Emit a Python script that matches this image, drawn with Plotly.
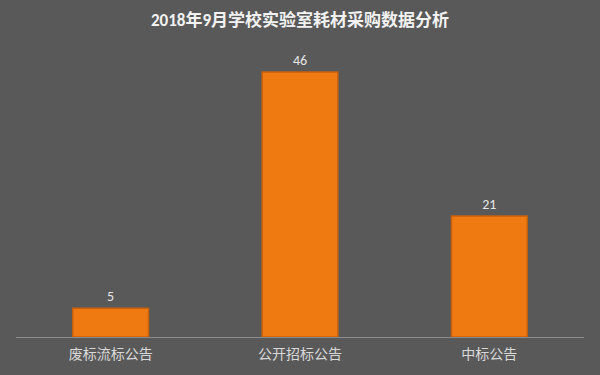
import plotly.graph_objects as go

categories = ["废标流标公告", "公开招标公告", "中标公告"]
values = [5, 46, 21]
title_text = "2018年9月学校实验室耗材采购数据分析"

font_family = "Calibri, 'Noto Sans CJK SC', sans-serif"

fig = go.Figure()
fig.add_trace(go.Bar(
    x=categories, y=values,
    marker=dict(color="#F07A12", line=dict(color="#C9600C", width=1.5)),
    text=[str(v) for v in values], textposition="outside",
    textfont=dict(color="#E6E6E6", size=14, family=font_family),
    cliponaxis=False,
    width=0.4,
))

fig.update_layout(
    width=600, height=375,
    paper_bgcolor="#595959", plot_bgcolor="#595959",
    margin=dict(l=16, r=16, t=49, b=38),
    title=dict(text="<b>" + title_text + "</b>", x=0.5, xanchor="center", y=0.947, yanchor="middle",
               font=dict(color="#F2F2F2", size=17, family=font_family)),
    showlegend=False,
    xaxis=dict(showline=True, linecolor="#8C8C8C", linewidth=1, ticks="",
               ticklabelstandoff=4,
               tickfont=dict(color="#D9D9D9", size=14, family=font_family), showgrid=False),
    yaxis=dict(range=[0, 50], visible=False, showgrid=False, zeroline=False),
)

fig.write_html("out.html")
